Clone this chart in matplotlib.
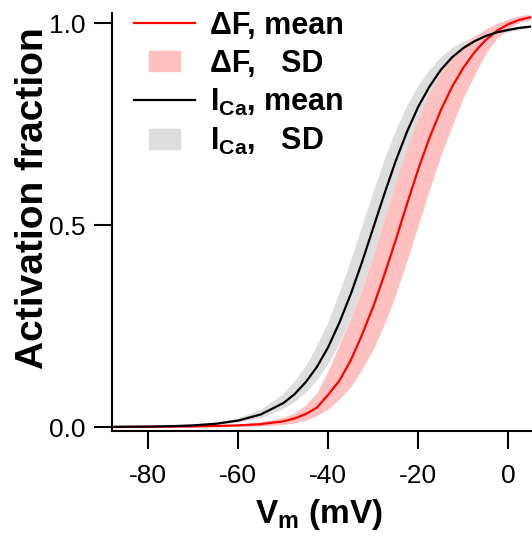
import numpy as np
import matplotlib
matplotlib.use("Agg")
import matplotlib.pyplot as plt
import matplotlib.patches as mpatches
from matplotlib.lines import Line2D
from matplotlib.legend_handler import HandlerPatch

plt.rcParams['font.family'] = 'Liberation Sans'
plt.rcParams['mathtext.fontset'] = 'custom'
plt.rcParams['mathtext.rm'] = 'Liberation Sans:bold'
plt.rcParams['mathtext.bf'] = 'Liberation Sans:bold'
plt.rcParams['axes.unicode_minus'] = False

# membrane potential (mV)
v_mv = [-87.5, -80, -75, -70, -65, -60, -55, -50, -47.5, -45, -42.5, -40, -37.5, -35,
        -32.5, -30, -27.5, -25, -22.5, -20, -17.5, -15, -12.5, -10, -7.5, -5, -2.5,
        0, 2.5, 4.8]

# delta F activation: mean and SD band edges
df_mean = [0.000, 0.0005, 0.001, 0.0015, 0.0025, 0.004, 0.007, 0.014, 0.021, 0.032,
           0.048, 0.080, 0.115, 0.165, 0.228, 0.298, 0.378, 0.463, 0.552, 0.638,
           0.716, 0.784, 0.842, 0.889, 0.928, 0.958, 0.981, 0.997, 1.008, 1.014]
df_hi = [0.000, 0.001, 0.0015, 0.0025, 0.004, 0.007, 0.013, 0.024, 0.035, 0.055,
         0.085, 0.140, 0.205, 0.270, 0.343, 0.425, 0.515, 0.605, 0.690, 0.765,
         0.828, 0.877, 0.915, 0.945, 0.967, 0.985, 0.999, 1.010, 1.018, 1.022]
df_lo = [0.000, 0.000, 0.0003, 0.0005, 0.001, 0.0015, 0.0025, 0.006, 0.010, 0.017,
         0.028, 0.045, 0.070, 0.100, 0.143, 0.193, 0.255, 0.329, 0.412, 0.500,
         0.588, 0.671, 0.745, 0.815, 0.872, 0.925, 0.963, 0.987, 1.002, 1.007]

# I_Ca activation: mean and SD band edges
ca_mean = [0.0004, 0.001, 0.002, 0.004, 0.008, 0.016, 0.031, 0.059, 0.081, 0.111,
           0.149, 0.198, 0.259, 0.329, 0.408, 0.493, 0.578, 0.659, 0.731, 0.793,
           0.843, 0.884, 0.915, 0.938, 0.955, 0.968, 0.977, 0.983, 0.988, 0.991]
ca_hi = [0.0005, 0.0015, 0.003, 0.006, 0.0115, 0.023, 0.044, 0.083, 0.114, 0.153,
         0.203, 0.263, 0.335, 0.415, 0.500, 0.585, 0.665, 0.737, 0.797, 0.847,
         0.886, 0.917, 0.939, 0.956, 0.968, 0.977, 0.984, 0.988, 0.992, 0.994]
ca_lo = [0.0003, 0.0008, 0.0016, 0.003, 0.006, 0.012, 0.023, 0.046, 0.063, 0.086,
         0.118, 0.158, 0.209, 0.271, 0.345, 0.425, 0.510, 0.594, 0.674, 0.744,
         0.804, 0.852, 0.891, 0.920, 0.942, 0.958, 0.970, 0.978, 0.984, 0.989]

labels = ["\u0394F, mean", "\u0394F,   SD", r"$\mathbf{I_{Ca}}$, mean", r"$\mathbf{I_{Ca}}$,   SD"]

red = '#ff0000'
pink = '#ffc0c0'
grey = '#dddddd'

fig = plt.figure(figsize=(5.32, 5.38), dpi=100)
ax = fig.add_axes([111.7 / 532, 107 / 538, (532 - 111.7) / 532, (525 - 107) / 538])

ax.fill_between(v_mv, ca_lo, ca_hi, color=grey, lw=0)
ax.fill_between(v_mv, df_lo, df_hi, color=pink, lw=0)
ax.plot(v_mv, df_mean, color=red, lw=1.6)
ax.plot(v_mv, ca_mean, color='black', lw=1.6)

ax.set_xlim(-88.1, 5.26)
ax.set_ylim(-0.0099, 1.0248)
ax.set_xticks([-80, -60, -40, -20, 0])
ax.set_yticks([0.0, 0.5, 1.0])
ax.set_yticklabels(['0.0', '0.5', '1.0'])

for s in ['top', 'right']:
    ax.spines[s].set_visible(False)
for s in ['left', 'bottom']:
    ax.spines[s].set_linewidth(1.5)
ax.tick_params(direction='out', length=13, width=1.5, labelsize=19)
ax.tick_params(axis='x', pad=11)
ax.tick_params(axis='y', pad=6)

ax.set_xlabel(r"V$_\mathbf{m}$ (mV)", fontsize=24, fontweight='bold')
ax.set_ylabel("Activation fraction", fontsize=28, fontweight='bold')
ax.xaxis.set_label_coords(0.493, -0.158)
ax.yaxis.set_label_coords(-0.145, 0.557)


def small_box(legend, orig_handle, xdescent, ydescent, width, height, fontsize):
    w, h = 22, 14
    return mpatches.Rectangle((-xdescent + (width - w) / 2, -ydescent + (height - h) / 2), w, h)


handles = [Line2D([], [], color=red, lw=1.6),
           mpatches.Patch(color=pink),
           Line2D([], [], color='black', lw=1.6),
           mpatches.Patch(color=grey)]
leg = ax.legend(handles, labels, loc='upper left', bbox_to_anchor=(0.053, 1.005),
                frameon=False, prop={'weight': 'bold', 'size': 22},
                handlelength=2.0, handletextpad=0.5, labelspacing=0.26,
                borderpad=0, borderaxespad=0,
                handler_map={mpatches.Patch: HandlerPatch(patch_func=small_box)})

fig.savefig('out.png', dpi=100)
